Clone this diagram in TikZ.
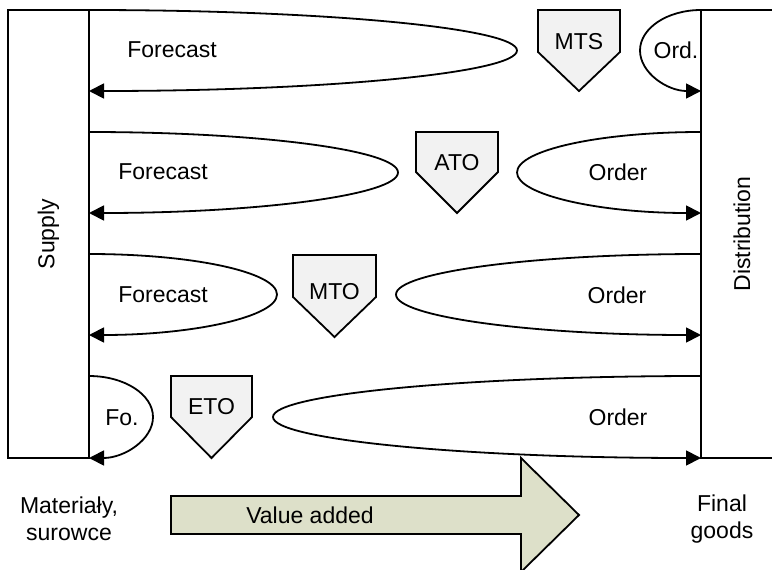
\documentclass[tikz,border=0pt]{standalone}
\usepackage{fontspec}
\setmainfont{Liberation Sans}
\usetikzlibrary{arrows.meta}
\definecolor{pentfill}{RGB}{242,242,242}
\definecolor{valuefill}{RGB}{221,224,201}
\begin{document}
\begin{tikzpicture}[x=1pt, y=-1pt, line width=1.8pt,
  lbl/.style={font=\fontsize{23}{27}\selectfont, inner sep=0pt},
  flow/.style={-{Triangle[length=15pt, width=15pt]}},
  pent/.style={draw, fill=pentfill, line join=miter},
  sidebox/.style={draw, rotate=90, lbl, minimum width=448pt}]
\useasboundingbox (0,0) rectangle (772,570);

% side columns
\node[sidebox, minimum height=81pt] (supply) at (48.5,234) {Supply};
\node[sidebox, minimum height=82pt] (distr) at (742,234) {Distribution};

% start and end points of the loops on the column edges
\foreach \r/\t/\b in {1/10/91, 2/132/213, 3/254/335, 4/376/458} {
  \coordinate (s\r t) at (89,\t);
  \coordinate (s\r b) at (89,\b);
  \coordinate (d\r t) at (701,\t);
  \coordinate (d\r b) at (701,\b);
}

% forecast loops (supply side)
\draw[flow] (s1t) arc[start angle=-90, end angle=90, x radius=428, y radius=40.5];
\draw[flow] (s2t) arc[start angle=-90, end angle=90, x radius=309, y radius=40.5];
\draw[flow] (s3t) arc[start angle=-90, end angle=90, x radius=188, y radius=40.5];
\draw[flow] (s4t) arc[start angle=-90, end angle=90, x radius=64, y radius=41];

% order loops (distribution side)
\draw[flow] (d1t) arc[start angle=-90, end angle=-270, x radius=61, y radius=40.5];
\draw[flow] (d2t) arc[start angle=-90, end angle=-270, x radius=184, y radius=40.5];
\draw[flow] (d3t) arc[start angle=-90, end angle=-270, x radius=305, y radius=40.5];
\draw[flow] (d4t) arc[start angle=-90, end angle=-270, x radius=428, y radius=41];

% loop labels
\node[lbl] (f1) at (172,50) {Forecast};
\node[lbl] (f2) at (163,172) {Forecast};
\node[lbl] (f3) at (163,295) {Forecast};
\node[lbl] (f4) at (122,418) {Fo.};
\node[lbl] (o1) at (676,50) {Ord.};
\node[lbl] (o2) at (618,172) {Order};
\node[lbl] (o3) at (617,295) {Order};
\node[lbl] (o4) at (618,417) {Order};

% decoupling points
\draw[pent] (538,10) -- (620,10) -- (620,52) -- (579,91) -- (538,52) -- cycle;
\node[lbl] (mts) at (579,42) {MTS};
\draw[pent] (416,132) -- (498,132) -- (498,172) -- (457,213) -- (416,172) -- cycle;
\node[lbl] (ato) at (457,163) {ATO};
\draw[pent] (293,255) -- (376,255) -- (376,297) -- (334.5,337) -- (293,297) -- cycle;
\node[lbl] (mto) at (334.5,292) {MTO};
\draw[pent] (171,376) -- (252,376) -- (252,417) -- (211.5,458) -- (171,417) -- cycle;
\node[lbl] (eto) at (211.5,407) {ETO};

% value added arrow
\draw[fill=valuefill, line join=miter]
  (171,496) -- (521,496) -- (521,458) -- (579,515) -- (521,572)
  -- (521,534) -- (171,534) -- cycle;
\node[lbl] (va) at (310,515) {Value added};

% bottom captions
\node[lbl, align=center] (raw) at (69,519) {Materiały,\\surowce};
\node[lbl, align=center] (fin) at (722,519) {Final\\goods};
\end{tikzpicture}
\end{document}
